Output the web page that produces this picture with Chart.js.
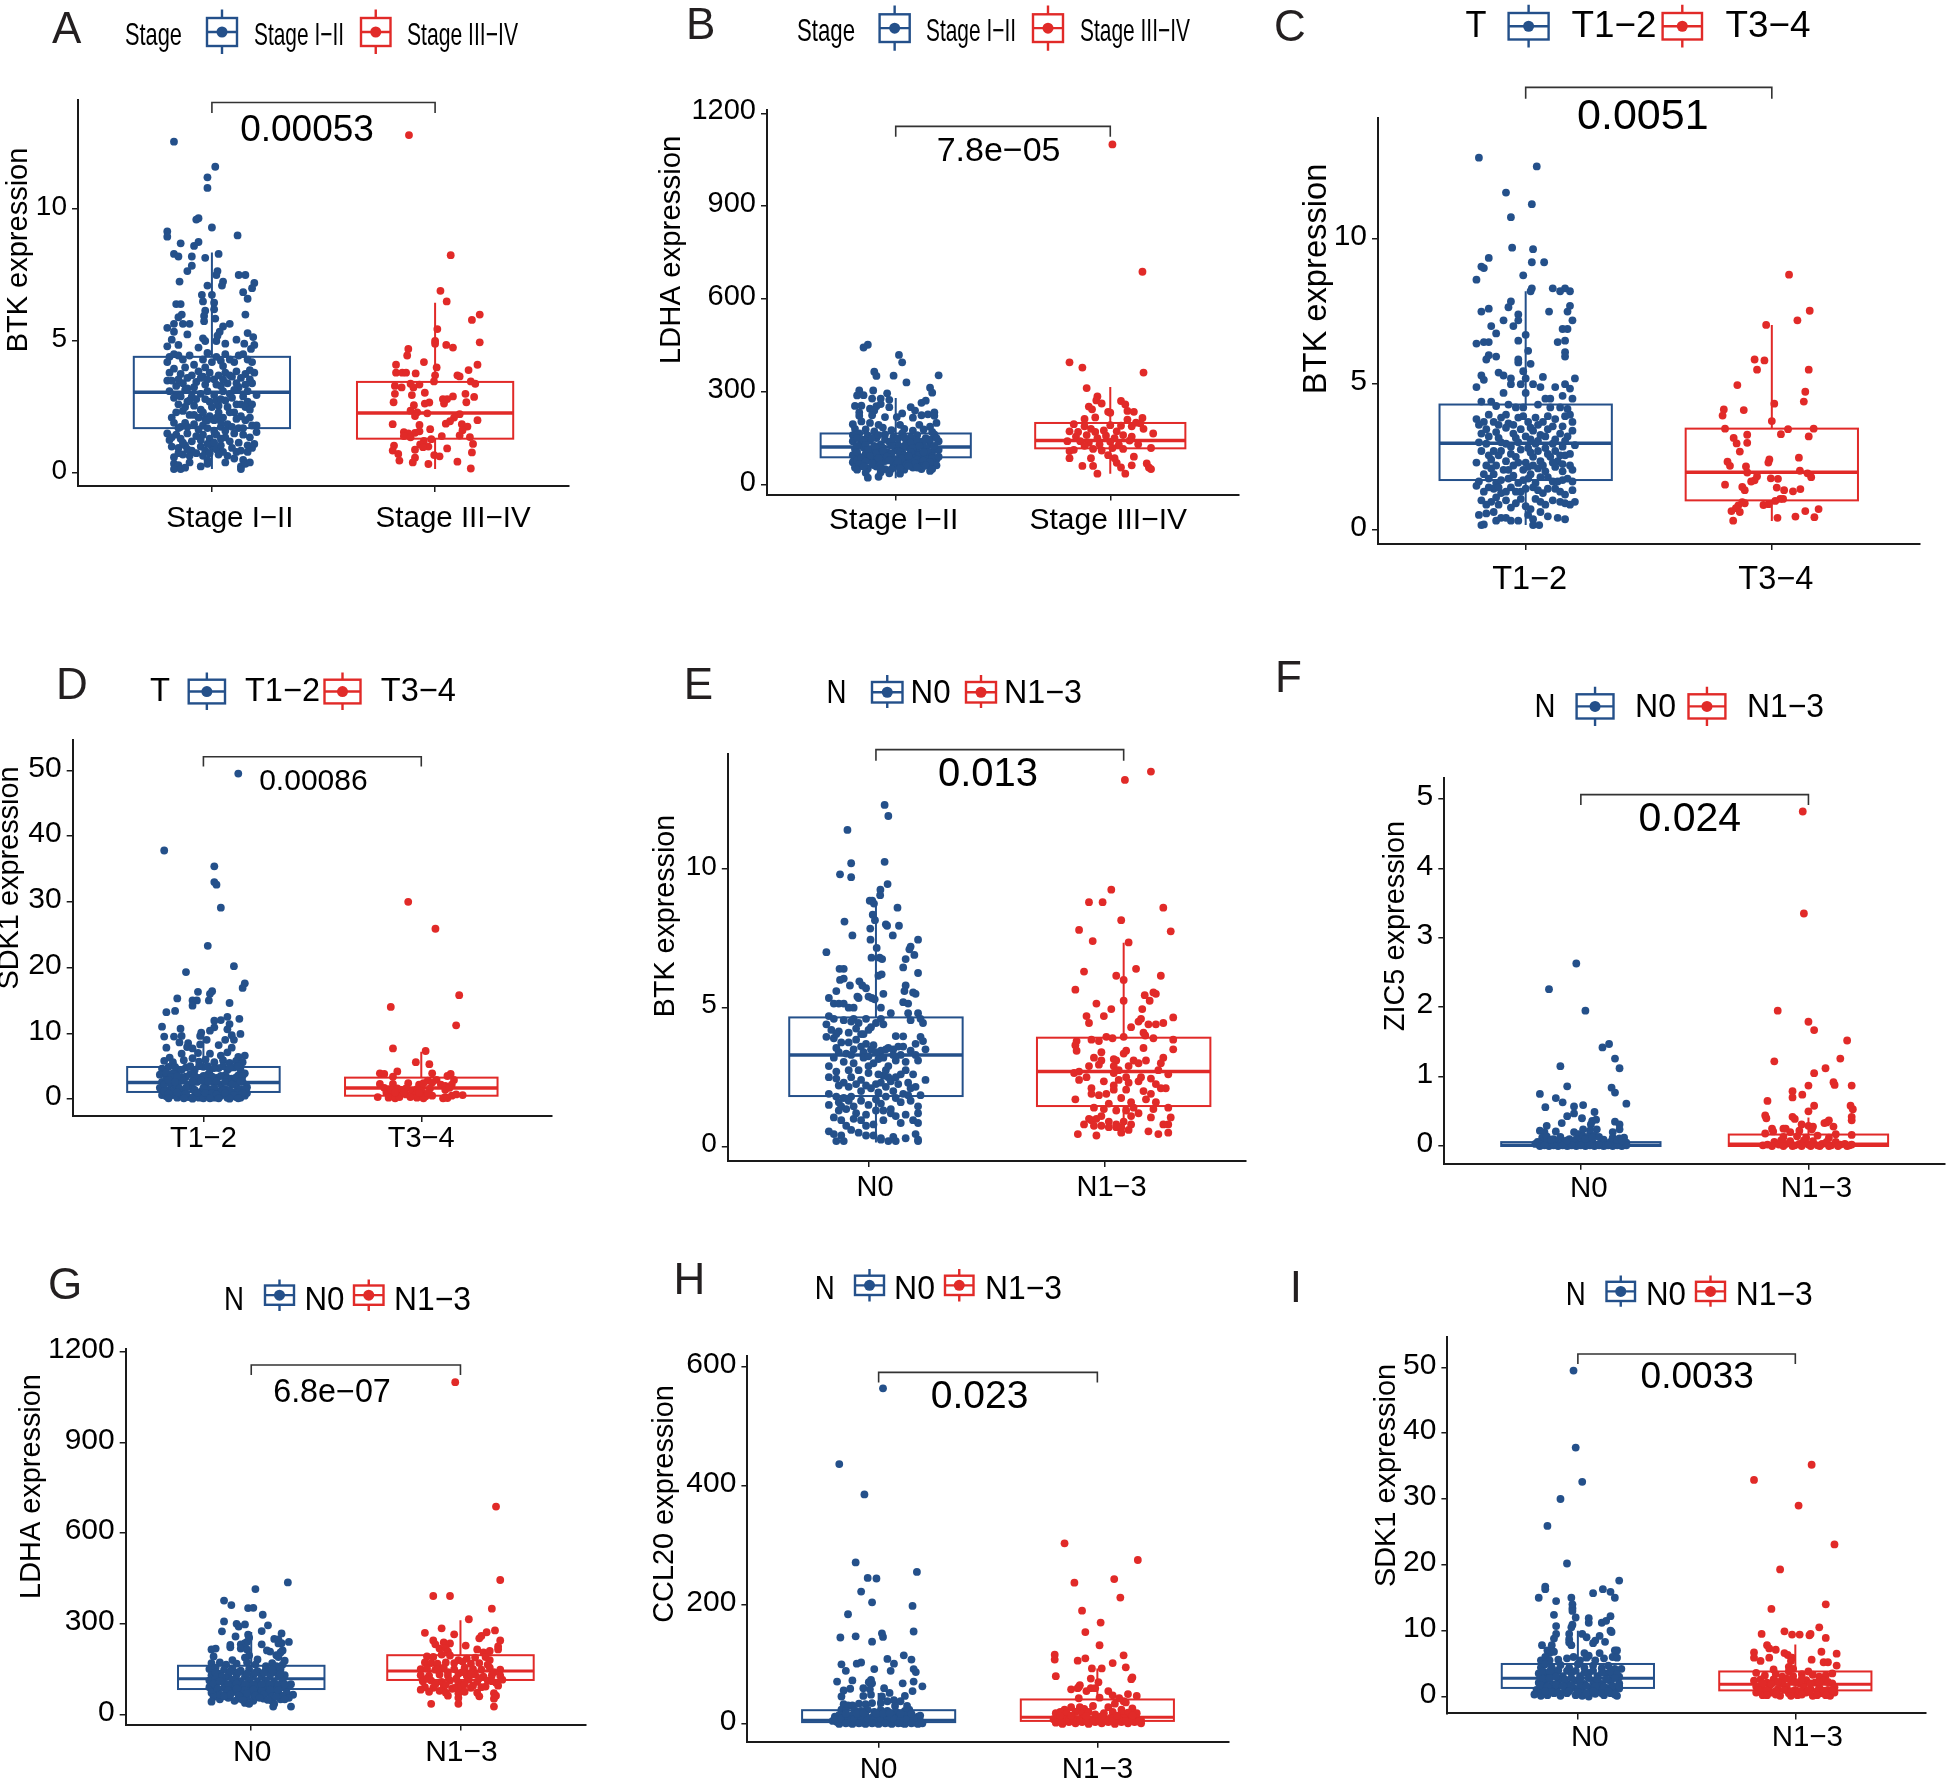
<!DOCTYPE html>
<html><head><meta charset="utf-8"><title>Expression boxplots</title>
<script src="https://cdn.jsdelivr.net/npm/chart.js@4"></script>
<style>html,body{margin:0;padding:0;background:#fff}#page{position:relative;width:1950px;height:1780px;overflow:hidden}canvas{position:absolute}</style>
</head><body><div id="page"></div>
<script>
// categories and tick labels
const catsStage=["Stage I−II","Stage III−IV"], catsT=["T1−2","T3−4"], catsN=["N0","N1−3"];
const ticksBTK=[0,5,10], ticksLDHA=[0,300,600,900,1200], ticksSDK1=[0,10,20,30,40,50], ticksZIC5=[0,1,2,3,4,5], ticksCCL20=[0,200,400,600];
// box statistics: lower whisker, q1, median, q3, upper whisker
const boxA=[[0.15,1.7,3.06,4.4,8.35],[0.15,1.3,2.27,3.45,6.45]];
const boxB=[[20,88,121,165,280],[35,117,142,199,315]];
const boxC=[[0.15,1.7,2.97,4.3,8.2],[0.29,1.0,1.97,3.47,7.04]];
const boxD=[[0,1.07,2.5,4.87,10],[0.05,0.5,1.67,3.25,7.2]];
const boxE=[[0.15,1.82,3.3,4.65,8.82],[0.4,1.46,2.7,3.92,7.34]];
const boxF=[[0,0,0.015,0.056,0.13],[0,0,0.03,0.165,0.41]];
const boxG=[[27,84,118,161,273],[32,114,144,196,312]];
const boxH=[[0,3,6,23,52],[0,5,11,41,93]];
const boxI=[[0,1.3,2.78,4.94,10],[0,0.93,1.85,3.8,7.9]];
// points: [jitter in hundredths of a category, value]
const aLow=[[-17,12.55],[1.5,11.6],[-2,11.2],[-2,10.8],[-6,9.65],[-7,9.6],[0,9.3],[-20,9.15],[-20,8.95],[11.5,9],[-14,8.7],[-6,8.75],[-8,8.6],[-17,8.3],[-15,8.2],[-9,8.2],[-3,8.15],[3,8.3],[-9,7.85],[-11,7.65],[2.5,7.65],[2,7.5],[12,7.5],[15,7.5],[-14.5,7.25],[19,7.2],[5,7.25],[4.5,7.1],[-2,7.1],[18,7],[14,6.85],[-4.5,6.75],[0,6.75],[16,6.6],[-4,6.5],[1,6.45],[-16,6.4],[-14,6.4],[-3,6.15],[1,6.2],[15,6],[-13.5,6],[-15,5.9],[-3.5,5.95],[-3.5,5.75],[1.5,5.85],[-17,5.65],[-13,5.65],[-10,5.65],[8,5.65],[-20,5.5],[5,5.55],[-17,5.35],[3.5,5.35],[-11,5.25],[16,5.3],[18.5,5.15],[-4,5.1],[2.5,5.2],[11,5.05],[-3,5],[2,5],[-18,5.05],[6,4.9],[14.5,4.9],[19,4.85],[-20,4.8],[-15,4.85],[-6,4.75],[17.5,4.7],[-19,4.4],[-20,4.2],[-17,4.5],[-15,4.45],[-13,4.3],[-10,4.45],[-8,4.1],[-4,4.3],[-2,4.55],[0,4.2],[2,4.4],[4,4.25],[6,4.5],[8,4.3],[10,4.2],[12,4.45],[14,4.5],[16,4.3],[18,4.2],[-12,4],[-3,4],[5,4.05],[-19,3.8],[-17,3.95],[-14,3.75],[-11,3.6],[-9,3.7],[-6,3.85],[-4,3.65],[-1,3.8],[1,3.55],[3,3.7],[6,3.8],[9,3.65],[11,3.85],[13,3.6],[15,3.75],[17,3.55],[19,3.8],[-20,3.5],[-16,3.3],[-13,3.4],[-7,3.45],[-3,3.35],[4,3.3],[7,3.4],[12,3.25],[18,3.4],[-19,3.1],[-15,2.95],[-12,3.15],[-9,2.9],[-5,3],[-2,3.1],[1,2.95],[5,3.1],[8,3],[10,3.15],[14,2.9],[16,3.1],[20,2.95],[-15,2.6],[-11,2.7],[-8,2.55],[-5,2.4],[-1,2.7],[3,2.55],[6,2.75],[11,2.6],[16,2.7],[-13,2.35],[-10,2.2],[-6,2.1],[-3,2.05],[-1,2.15],[1,2],[3,2.3],[5,2.1],[10,2.3],[13,2.15],[15,2],[17,2.1],[-18,2.1],[-17,1.9],[-14,1.75],[-12,1.9],[-8,1.85],[-4,1.8],[4,1.75],[7,1.85],[12,1.7],[18,1.8],[-20,1.5],[-19,1.25],[-16,1.45],[-14,1.3],[-11,1.5],[-7,1.4],[-4,1.45],[-1,1.3],[2,1.45],[6,1.35],[10,1.5],[14,1.45],[17,1.35],[20,1.55],[-18,1],[-15,.95],[-12,1.05],[-9,.85],[-5,1],[-3,.85],[0,1],[2,.9],[4,1.05],[9,.95],[13,.85],[18,.95],[-17,.6],[-13,.7],[-10,.65],[-4,.65],[-2,.5],[7,.65],[10,.55],[14,.5],[-17,.35],[-15,.3],[-14,.15],[-12,.2],[-10,.4],[-5,.25],[-2,.35],[6,.4],[13,.25],[15,.35],[17,.4],[-17,.15],[13,.15],[-18,3.5],[-15,3.55],[-11,3.2],[-8,3.25],[-5,3.6],[-2,3.55],[2,3.35],[5,3.55],[8,3.7],[11,3.4],[15,3.35],[17,3.9],[-17,2.85],[-14,2.9],[-10,2.75],[-7,2.8],[-3,2.8],[0,2.5],[2,2.75],[4,2.8],[7,2.5],[9,2.85],[13,2.6],[15,2.5],[18,2.6],[-16,2.3],[-12,2.5],[-8,2.2],[-4,2.3],[-2,2],[2,2.1],[4,1.95],[8,2.3],[11,2.05],[17,2.4],[-15,1.7],[-11,1.75],[-6,1.65],[-2,1.7],[1,1.6],[6,1.6],[9,1.75],[14,1.7],[20,1.8],[-18,1.35],[-13,1.15],[-9,1.2],[-5,1.25],[-2,1.1],[1,1.15],[4,1.3],[8,1.2],[12,1.15],[16,1.05],[19,1.1],[-15,.75],[-11,.9],[-7,.75],[-1,.75],[3,.7],[5,.8],[11,.8],[16,.8]];
const aHigh=[[-11.7,12.8],[7,8.25],[2.4,6.9],[5.2,6.5],[20,6],[16.5,5.8],[1,5.45],[0,5],[0,4.9],[20,4.95],[5,4.85],[8,4.75],[-12,4.7],[-12.5,4.45],[-5,4.2],[-17.5,4.1],[19,4.1],[.7,4],[15,3.9],[-17.5,3.8],[-14.7,3.8],[-13,3.8],[-8.7,3.77],[0,3.7],[10,3.7],[11,3.66],[-.5,3.47],[16,3.47],[18,3.38],[-18,3.3],[-11,3.38],[-7,3.35],[-15,3.24],[-9.7,3.24],[-4.6,3.04],[-18,3],[-10.4,2.95],[13.6,3],[8,2.9],[17.5,2.88],[3.5,2.8],[5.4,2.8],[14,2.68],[4,2.63],[-18.6,2.68],[-2.6,2.67],[-4.6,2.63],[-9.5,2.57],[-11,2.36],[-8,2.3],[-3.5,2.26],[11,2.23],[8.5,2.1],[-9,2.16],[6.7,1.96],[19,2],[4.8,1.87],[-19,1.85],[12,1.85],[-7,1.82],[14.5,1.76],[-2.2,1.66],[12.3,1.62],[-14,1.55],[-12,1.5],[-9,1.52],[-7,1.58],[11,1.42],[3,1.4],[15.6,1.36],[-14,1.4],[-11,1.35],[-1.7,1.28],[-5,1.22],[17,1.1],[-6.7,1.08],[-18.4,1.04],[-3,1],[5.4,.93],[-19,.85],[-9,.88],[-5.4,.98],[16.5,.78],[-16.5,.72],[-.4,.68],[2,.63],[-9,.58],[-16,.47],[-3,.34],[-10,.4],[10,.43],[16,.17]];
const bLow=[[-13,452],[-15,443],[1.5,419],[3,395],[-10,365],[-9,351],[-1,352],[20,353],[5,330],[16,313],[17,297],[-17,304],[-10.5,304],[-4,295],[-18,288],[-15,289],[-7,278],[-3,274],[-11,278],[14,271],[12,264],[-19,254],[-16,255],[-9,253],[-7,260],[7,250],[-12,245],[-3,250],[9,239],[18,233],[-17,233],[-10,239],[12,224],[15,227],[18,222],[3,230],[-17,222],[-11,224],[-5,218],[.5,218],[8,216],[-20,195],[-16,204],[-12,199],[-8,193],[2,193],[11,193],[19,199],[16,187],[-19,180],[-14,178],[-10,172],[-6,184],[-2,176],[4,180],[8,174],[13,178],[17,170],[-20,160],[-17,165],[-13,158],[-9,150],[-5,162],[-1,155],[3,165],[7,152],[10,160],[14,150],[18,162],[-20,140],[-16,135],[-12,142],[-7,130],[-3,138],[1,128],[5,140],[9,130],[12,138],[16,128],[20,140],[-19,115],[-15,120],[-11,110],[-8,118],[-4,105],[0,115],[3,108],[6,120],[10,110],[14,118],[17,105],[20,112],[-20,95],[-17,90],[-14,100],[-10,88],[-6,95],[-2,85],[2,92],[5,84],[8,98],[12,88],[15,95],[19,82],[-20,72],[-18,78],[-15,68],[-12,80],[-9,70],[-5,76],[-1,65],[3,72],[7,78],[11,66],[15,70],[18,75],[-19,55],[-16,60],[-13,52],[-9,58],[-5,50],[0,60],[4,48],[8,55],[12,50],[16,58],[19,62],[-14,38],[-7,40],[-3,36],[2,35],[16,44],[-13,22],[-8,25],[-18,150],[-15,145],[-11,150],[-8,160],[-5,145],[-2,140],[1,148],[4,152],[7,135],[10,142],[13,140],[16,145],[19,150],[-18,125],[-14,128],[-10,125],[-6,118],[-2,125],[1,108],[4,125],[8,118],[11,125],[15,105],[18,125],[-18,105],[-13,112],[-9,102],[-6,108],[-2,100],[2,105],[4,95],[7,105],[11,96],[13,105],[17,92],[-16,85],[-12,92],[-8,85],[-4,90],[0,82],[3,85],[6,92],[10,80],[13,78],[17,85],[20,90],[-17,66],[-14,75],[-10,62],[-7,65],[-3,78],[1,75],[5,65],[9,68],[13,60],[16,72],[-18,48],[-15,58],[-11,68],[-7,52],[-2,50],[2,52],[6,60],[10,55],[14,62],[17,50]];
const bHigh=[[-19,395],[-13,378],[15.5,362],[1,1100],[-11,312],[15,688],[-6,285],[-6.5,272],[5,270],[-4,262],[-10,252],[7,259],[-8.5,243],[-1,235],[0,232],[8,238],[11,235],[-12,212],[-7,217],[8,210],[15,215],[12,200],[14,198],[-17,195],[-12,188],[0,192],[5,190],[10,188],[15.5,180],[-19,172],[-15,170],[-9,180],[-7,170],[-3,175],[3,172],[-16,155],[-11,160],[-6,150],[-2,158],[2,150],[6,160],[10,155],[20,165],[-20,140],[-14,140],[-10,135],[-5,130],[0,138],[4,128],[9,142],[13,130],[19,118],[-19,108],[-17,112],[-12,125],[-8,115],[-4,110],[1,118],[6,115],[-19,85],[-9,85],[-1,95],[2,85],[11,90],[-13,60],[-8,60],[3,70],[5,55],[10,62],[17,68],[18,55],[19,50],[-6,35],[7,35]];
const cLow=[[-19,12.8],[4.5,12.5],[-8,11.6],[2.5,11.2],[-6,10.75],[-5.5,9.7],[3,9.65],[-15,9.35],[-18,9.05],[-17,9],[2.5,9.2],[7.5,9.2],[-1,8.75],[-20,8.6],[2.5,8.3],[2,8.2],[11,8.3],[16,8.3],[14,8.2],[18,8.2],[-6,7.85],[-7,7.65],[-15,7.6],[-18,7.5],[18,7.7],[17,7.5],[9.5,7.5],[-3,7.4],[-3,7.2],[-9,7.2],[19,7.2],[-14,7],[-5,7],[-12,6.75],[15,6.9],[17,6.9],[-3,6.5],[0,6.7],[13,6.45],[16,6.5],[-20,6.4],[-17,6.45],[-15,6.45],[1,6.15],[16,6.1],[16,5.95],[-15,6],[-16,5.85],[-12,5.95],[-3,5.85],[-3,5.75],[2,5.7],[-11,5.4],[-9,5.3],[-1,5.45],[0,5.2],[-6,5.2],[-18,5.3],[-17,5.15],[7,5.25],[20,5.2],[-6,5],[-2,5],[3,5],[6,4.9],[12,4.9],[16,5],[18,4.85],[-20,4.9],[-9,4.7],[0,4.7],[8,4.5],[10,4.5],[15,4.6],[19,4.5],[-18,4.4],[-14,4.4],[-12,4.25],[-7,4.3],[-4,4.2],[-1,4.2],[5,4.3],[10,4.2],[14,4.2],[17,4.15],[-20,3.8],[-19,3.6],[-15,3.95],[-13,3.7],[-10,3.85],[-7,3.65],[-3,3.85],[1,3.7],[4,3.85],[7,3.7],[12,3.8],[16,3.9],[19,3.7],[-18,3.3],[-16,3.45],[-12,3.35],[-8,3.5],[-5,3.3],[-2,3.45],[0,3.2],[3,3.4],[6,3.25],[9,3.45],[14,3.3],[17,3.2],[19,3.4],[-19,3],[-16,2.95],[-13,2.7],[-10,3],[-6,2.85],[-3,3],[1,2.8],[4,2.95],[8,2.8],[11,2.95],[15,2.85],[20,2.9],[-14,2.4],[-11,2.55],[-8,2.35],[-4,2.5],[0,2.3],[3,2.5],[6,2.35],[10,2.5],[13,2.35],[16,2.55],[-20,2.3],[-14,2.1],[-9,2.05],[-5,2.2],[-1,2.05],[5,2.1],[8,2],[12,2.15],[15,2],[18,2.2],[-19,1.65],[-15,1.75],[-12,1.6],[-7,1.75],[-3,1.6],[1,1.75],[4,1.6],[9,1.8],[13,1.65],[17,1.75],[19,1.65],[-20,1.5],[-17,1.3],[-13,1.4],[-10,1.25],[-6,1.45],[-2,1.3],[3,1.45],[7,1.25],[12,1.4],[16,1.2],[19,1.35],[-18,1],[-14,.95],[-11,.85],[-8,1],[-4,.9],[0,.8],[4,1.05],[8,.85],[14,.95],[18,.85],[20,.95],[-19,.5],[-16,.55],[-13,.6],[-10,.4],[-6,.3],[-3,.3],[1,.5],[3,.35],[6,.6],[9,.45],[13,.4],[16,.35],[-18,.15],[-17,.17],[-8,.4],[3,.15],[5.5,.15],[-12,.3],[-17,3.7],[-11,3.6],[-8,3.95],[-5,3.6],[-1,3.9],[2,3.5],[5,3.6],[9,3.9],[11,3.55],[15,3.55],[18,3.95],[-15,3.2],[-11,3.15],[-8,2.95],[-4,3.15],[2,3.1],[5,3.05],[8,3.2],[12,3.1],[16,3.05],[-18,2.7],[-15,2.55],[-10,2.7],[-6,2.6],[-2,2.75],[2,2.65],[5,2.7],[9,2.6],[12,2.7],[14,2.55],[18,2.6],[-16,2.2],[-12,2.2],[-7,2.05],[-3,2.3],[1,2.15],[3,2.2],[7,2.2],[11,2.3],[15,2.25],[19,2.05],[-17,1.9],[-13,1.9],[-10,1.7],[-5,1.85],[-1,1.7],[2,1.9],[6,1.8],[11,1.65],[15,1.7],[-15,1.45],[-11,1.45],[-8,1.3],[-4,1.3],[0,1.4],[5,1.35],[9,1.4],[14,1.3],[-16,.85],[-12,1.1],[-6,.75],[-2,1.05],[2,.7],[6,.95],[11,1],[16,.9]];
const cHigh=[[7,8.77],[15.4,7.53],[10.4,7.2],[-2.3,7.04],[-7,5.85],[-3,5.82],[-6,5.5],[15,5.5],[-14,4.97],[13.6,4.74],[13,4.4],[1,4.33],[-19.5,4.13],[-11.4,4.11],[-20,3.92],[0,3.73],[-19,3.47],[6.6,3.45],[17,3.47],[3.7,3.28],[-10,3.26],[15,3.2],[-15.5,3.15],[-14.3,2.96],[-10,2.98],[-13,2.68],[11,2.47],[-1,2.41],[-1.4,2.3],[-18,2.33],[-17,2.19],[-10.5,2.17],[-10,1.96],[11.4,2.02],[14.5,1.93],[16,1.8],[-6,1.83],[-7,1.69],[-.4,1.76],[2.5,1.74],[-8.4,1.65],[-19,1.54],[-12,1.46],[-11,1.35],[2,1.44],[11.6,1.39],[5,1.35],[8.6,1.31],[4.6,1.05],[3.4,1.05],[1.4,.98],[-12,.94],[-13.6,.83],[-11,.9],[-3.4,.84],[-1.3,.87],[-14.6,.73],[19,.7],[-13,.6],[-16.4,.63],[13.6,.63],[9.6,.44],[17.3,.42],[2.3,.4],[-15.7,.3]];
const dLow=[[16,49.5],[-18,37.8],[5,35.4],[5,33],[6,32.6],[8,29.1],[2,23.3],[14,20.2],[-8,19.3],[19,17.6],[18,16.9],[-2.5,16.3],[4,16.4],[3,16],[-12,15.3],[-3,15],[-5,15],[2.5,15],[12,14.6],[-5,14.2],[-17,13.2],[-13,13.4],[11,12.5],[16.5,12.2],[8,12],[5,11.9],[12,11.4],[-19,11],[5,10.9],[-10.5,10.7],[3,10.4],[11,10.6],[-1,10.1],[17,9.9],[-1.5,9.6],[13,9.7],[-18,9.5],[-13.5,9.5],[-10,9.6],[14,9],[1.5,9],[10,9],[-11,8.6],[-7,8.5],[-1.5,8.3],[7,8.2],[-17,7.8],[-7.5,7.9],[-5,7.7],[13,7.8],[11,7.1],[-10,6.9],[-2.5,7],[3,6.9],[19,6.6],[16,6.4],[-15.5,6.3],[8,6.6],[-18,5.8],[-14,5.6],[-9,5.9],[-5,6.2],[-2,5.7],[1,6],[5,5.6],[9,5.9],[12,5.5],[15,5.8],[18,5.6],[-19,4.6],[-16,4.9],[-12,4.5],[-8,4.8],[-4,4.4],[0,4.9],[3,4.4],[7,4.7],[11,4.4],[14,4.8],[17,4.5],[19,3.9],[-20,3.7],[-17,3.4],[-14,3.9],[-10,3.3],[-6,3.8],[-2,3.2],[2,3.7],[6,3.2],[10,3.6],[13,3.1],[16,3.6],[-19,2.6],[-15,2.3],[-11,2.7],[-7,2.2],[-3,2.6],[1,2.2],[4,2.7],[8,2.2],[12,2.5],[15,2.1],[18,2.6],[-20,1.7],[-16,1.3],[-13,1.7],[-9,1.2],[-5,1.6],[-1,1.1],[3,1.5],[7,1.1],[10,1.5],[14,1],[17,1.5],[20,1.8],[-19,.6],[-17,.4],[-14,.6],[-12,.2],[-10,.6],[-7,.3],[-4,.5],[-2,.2],[0,.1],[2,.6],[5,.2],[8,.5],[11,.2],[13,.5],[15,.3],[17,.2],[19,.5],[20,.9],[-17,4],[-15,3.3],[-12,3.5],[-8,3.4],[-4,3.5],[0,3.5],[4,3.4],[8,3.5],[11,3.2],[15,3.3],[18,3.5],[-18,2.2],[-16,2.9],[-13,2.6],[-9,2.8],[-5,2.7],[-1,2.8],[2,2.7],[6,2.7],[10,2.6],[13,2.2],[17,2.7],[-18,1.2],[-15,1.2],[-11,1.6],[-8,1.7],[-4,1.4],[0,1.7],[5,1.7],[9,1.3],[12,1.3],[16,1],[19,1.5],[-16,.8],[-12,1],[-8,.8],[-3,.9],[1,.9],[4,.9],[6,.7],[10,.9],[14,.6],[18,.9],[-13,4.9],[-10,4.4],[-6,5],[-2,5],[2,5],[5,4.7],[9,5],[12,4.7],[16,5],[-16,.1],[-9,.1],[-5,.05],[3,.1],[7,.1],[12,.05],[16,.1]];
const dHigh=[[-6,30],[6.5,25.9],[17.4,15.8],[-14,14],[16,11.2],[-13,7.7],[2,7.3],[-2.5,5.6],[3.7,5.3],[-19,3.9],[-17,3.8],[-11,4.2],[-13,3.4],[5,3.9],[13.5,3.8],[12,3.5],[7,2.9],[15,2.9],[3,2.8],[-6,2.4],[-19,2.3],[-13,2.3],[-1,2.2],[1,2.4],[5,2.5],[9,2.2],[11,2],[14,2.2],[-17,1.7],[-15,1.5],[-11,1.6],[-9,1.4],[-7,1.6],[-4,1.2],[-2,1.5],[0,1.2],[4,1.6],[11,1.4],[13,1.7],[-16,1],[-13,.8],[-10,.9],[-7,.7],[-3,.6],[0,.6],[2,.4],[5,.5],[11,.3],[14,.5],[16,.7],[19,.6],[-20,.3],[-15,.2],[-12,.1],[-10,.3],[-2,.2],[1,.1],[10,.1],[12,.15],[-14,1.4],[-12,1],[-8,1],[-5,.3],[-1,.9],[3,.9]];
const eLow=[[3.5,12.3],[5,11.9],[-11.5,11.4],[-10,10.2],[3.5,10.25],[-14.5,9.8],[-10,9.7],[4.7,9.45],[1.8,9.25],[1.7,9.05],[-2.5,8.85],[-1.5,8.85],[-.8,8.75],[8.7,8.6],[-1.3,8.35],[-.4,8.15],[-12.7,8.1],[4,8],[4.5,7.95],[9.3,7.95],[-2.3,7.85],[6.8,7.6],[-9.5,7.6],[17,7.45],[-2.2,7.45],[14,7.2],[13.5,7.1],[.3,7.15],[-20,7],[15.5,6.9],[-1.8,6.8],[1.5,6.8],[2.5,6.75],[12,6.75],[-14.7,6.4],[-13,6.4],[11,6.45],[17,6.25],[2.3,6.2],[1,6.15],[-14.5,6],[-13,6.05],[-6.7,5.95],[-5.5,5.8],[-10.5,5.8],[-4,5.7],[12,5.8],[11.5,5.6],[-16,5.6],[15,5.55],[16,5.5],[3,5.5],[-3,5.4],[-7.5,5.4],[-7,5.35],[-1.7,5.35],[-19,5.35],[-.5,5.3],[11,5.2],[13,5.15],[-17,5.15],[-15,5.15],[-13,5.15],[-11,5],[-9,5],[2,5],[6,4.8],[13,4.8],[17,4.8],[18,4.6],[-19,4.7],[-17,4.6],[-13,4.55],[-9,4.6],[-7,4.45],[-4,4.6],[0,4.45],[2,4.6],[3,4.4],[14,4.55],[19,4.45],[-20,4.4],[-18,4.2],[-15,4.15],[-11,4.1],[-8,4.25],[-6,4.05],[-3,4.2],[8,3.98],[11,3.97],[18,3.95],[-20,3.95],[-17,3.9],[-14,3.75],[-11,3.75],[-8,3.85],[-4,3.7],[-1,3.65],[5,3.55],[9,3.6],[16,3.7],[19,3.8],[-15,3.4],[-12,3.35],[-9,3.5],[-5,3.4],[-2,3.5],[2,3.45],[4,3.5],[7,3.5],[10,3.3],[14,3.45],[20,3.5],[-19,2.9],[-17,3.2],[-13,3.05],[-9,3],[-5,3.2],[-1,3],[1,3.15],[5,2.9],[8,3.1],[12,3.05],[17,3.1],[-19,2.5],[-16,2.45],[-13,2.3],[-10,2.5],[-6,2.4],[-3,2.65],[0,2.25],[3,2.55],[6,2.35],[10,2.6],[13,2.3],[16,2.15],[20,2.4],[-19,1.9],[-16,1.8],[-13,1.75],[-10,1.8],[-6,2],[-2,2.1],[1,1.95],[4,2.15],[7,2],[11,1.9],[13,1.85],[18,1.85],[-19,1.5],[-15,1.6],[-12,1.35],[-9,1.45],[-3,1.5],[2,1.55],[6,1.35],[10,1.6],[17,1.45],[17,1.2],[-17,1.05],[-14,.95],[-12,.75],[-9,1],[-6,.95],[-4,.75],[-1,.8],[3,.95],[6,1.2],[10,.85],[15,.95],[17,.85],[-19,.55],[-17,.45],[-14,.4],[-10,.6],[-7,.5],[-4,.4],[-1,.4],[2,.3],[5,.2],[7,.35],[12,.3],[16,.45],[17,.25],[-16,.2],[-13,.2],[2,.25],[8,.2],[17,.2],[-16,4.05],[-10,4.5],[-5,4.05],[-2,4.3],[-16,3.55],[-10,3.3],[-6,3.6],[-3,3.25],[0,3.4],[3,3.2],[7,3.3],[11,3.6],[16,3.3],[-16,2.7],[-11,2.75],[-7,2.75],[-3,2.9],[1,2.6],[4,2.75],[8,2.5],[12,2.75],[15,2.6],[-15,2.2],[-11,2.15],[-8,2.25],[-4,2.2],[2,2.3],[5,2.5],[9,2.25],[14,2.1],[-14,1.45],[-11,1.65],[-6,1.65],[0,1.7],[4,1.8],[8,1.75],[14,1.65],[-15,1.3],[-8,1.2],[-4,1.15],[0,1.3],[3,1.3],[8,1.1],[12,1.15]];
const eHigh=[[11,13.5],[.5,13.2],[-5,9.25],[-8.5,8.8],[-14,8.8],[16,8.6],[-1,8.15],[-18,7.8],[19,7.75],[-12.5,7.4],[2,7.35],[5,6.4],[-16,6.3],[15,6.15],[-3,6.15],[0,6],[-19.5,5.65],[13,5.5],[12,5.55],[8.5,5.45],[10.5,5.25],[0,5.25],[-11,5.15],[-5,4.95],[7.5,4.95],[-15,4.7],[-8,4.7],[20,4.65],[7,4.6],[6,4.5],[-14,4.45],[3,4.3],[10,4.4],[13,4.4],[16,4.45],[8,4.1],[8.7,4],[-19,3.8],[-7,3.95],[-4.5,3.9],[0,3.95],[-13,3.85],[-10,3.8],[-19.5,3.65],[12,3.9],[20,3.85],[8,3.55],[-19,3.45],[-9,3.4],[1,3.45],[0,3.35],[20,3.5],[-12,3.2],[-9,3.1],[-4,3.15],[-3,3.1],[16,3.2],[4,3.1],[6,3],[-14,2.9],[-10,2.95],[-4,2.9],[-2,2.75],[2,2.9],[9,3.1],[15,3],[-18,2.7],[-20,2.65],[-4,2.65],[1,2.5],[7,2.5],[11,2.45],[14,2.75],[18,2.6],[-15,2.5],[-18,2.4],[-8,2.35],[-4,2.2],[-2,2.4],[2,2.3],[6,2.35],[13,2.25],[17,2.1],[-13,2.1],[-7,1.9],[-4,2.05],[1,2.05],[8,2],[11,1.9],[15,2.1],[-19.5,1.7],[-13,1.9],[-10,1.85],[-6,1.55],[-1,1.75],[3,1.6],[9,1.7],[13,1.6],[-12,1.4],[-8,1.35],[-3,1.3],[1,1.3],[4,1.4],[12,1.35],[18,1.4],[-14,1],[-13,.95],[-11,1],[-9,1.1],[-6,.9],[-3,.8],[0,.9],[3,1.1],[6,1.2],[11,1.05],[19,1.05],[18,.8],[-16,.8],[-12,.75],[-9,.75],[-6,.7],[-3,.7],[-1,.7],[2,.6],[3,.8],[16,.8],[-18.5,.45],[-11,.4],[-1,.5],[10,.55],[14,.45],[18,.5]];
const fLow=[[-2,2.63],[-14,2.26],[2,1.95],[12.4,1.47],[9.5,1.42],[15,1.26],[-9,1.15],[17,1.12],[-6,.86],[13.5,.84],[15,.77],[-18,.75],[-11,.69],[-8,.63],[20,.61],[-15.6,.56],[-3,.57],[1,.59],[6,.49],[-3,.47],[-6,.43],[.5,.4],[6.7,.38],[5,.36],[-8.4,.33],[15,.35],[17,.31],[-15,.29],[4.4,.31],[-18,.22],[-16,.2],[-11,.21],[-3,.2],[-1,.17],[1,.24],[4,.22],[7,.24],[14,.2],[17,.24],[-17,.12],[-15,.14],[-12,.1],[-9,.13],[-5,.1],[-2,.1],[1,.14],[3,.13],[6,.15],[10,.09],[14,.12],[17,.11],[19,.12],[-20,.03],[-19,.06],[-17,.02],[-15,.05],[-13,.02],[-11,.06],[-9,.03],[-7,.07],[-5,.01],[-3,.05],[-1,.02],[1,.06],[3,.02],[5,.07],[7,.02],[9,.05],[11,.01],[13,.06],[15,.02],[17,.05],[19,.02],[20,.05],[-18,0],[-14,0],[-10,0],[-6,0],[-2,0],[2,0],[6,0],[10,0],[14,0],[18,0],[-16,.01],[-12,.01],[-8,.01],[-4,.01],[0,.01],[4,.01],[8,.01],[12,.01],[16,.01],[20,.01],[-13,.09],[-6,.08],[2,.1],[5,.12],[8,.13],[16,.09],[18,.08]];
const fHigh=[[-2.5,4.82],[-2,3.35],[-13.5,1.95],[0,1.79],[2.5,1.67],[17,1.52],[14,1.26],[-15,1.22],[7.5,1.12],[2.5,1.05],[11,.92],[11.5,.88],[0,.87],[19,.87],[-7,.79],[-7,.7],[-2.7,.74],[-18,.65],[18.5,.58],[19.5,.53],[2.5,.58],[0,.5],[-19,.44],[-18.5,.4],[-7,.42],[-6,.39],[19,.42],[19,.37],[8,.34],[9,.37],[7,.33],[-3,.31],[0,.29],[2,.28],[11,.28],[-16,.25],[-11,.25],[-10,.25],[-19,.18],[-15.5,.21],[-8,.2],[-4,.22],[1.5,.24],[12,.17],[19,.16],[-11,.13],[-5,.14],[-1,.12],[4,.15],[9,.12],[-20,.01],[-18,.02],[-15,.06],[-13,.02],[-12,.08],[-10,.03],[-8,.07],[-6,.01],[-4,.03],[-2,.08],[0,.02],[2,.07],[4,.01],[6,.03],[8,.06],[10,.01],[12,.06],[14,.02],[16,.03],[18,.01],[19,.02],[-16,0],[-11,0],[-7,0],[-3,0],[1,0],[5,0],[9,0],[13,0],[17,0]];
const gLow=[[17.5,437],[2,415],[-13,377],[-9.5,362],[-1.5,352],[1,353],[5.5,330],[-13,308],[8,295],[-7,300],[-6,291],[-3,298],[-14,275],[5,276],[14.5,268],[-1.5,264],[-7.5,258],[-1,254],[11,250],[13,248],[18,240],[-2,240],[-3,236],[14.5,236],[-5,232],[13,235],[-10,230],[5,232],[-10,222],[-19,215],[-17,218],[-5,218],[-2,215],[9,208],[7.5,212],[15,212],[14,205],[-18,192],[-1,195],[12,196],[-9,180],[-3,188],[3,182],[16,178],[10,170],[13,190],[-19,170],[-15,172],[-12,165],[-7,168],[-2,172],[2,165],[7,160],[12,160],[15,165],[-20,150],[-17,155],[-13,148],[-9,152],[-5,145],[-1,150],[3,143],[7,148],[11,140],[14,150],[-19,130],[-15,135],[-11,128],[-7,132],[-3,125],[1,130],[5,125],[9,130],[13,125],[16,130],[-20,112],[-17,118],[-13,108],[-9,115],[-5,105],[-1,112],[3,105],[7,112],[11,105],[15,112],[19,100],[-20,90],[-17,95],[-13,88],[-9,92],[-5,85],[-1,92],[3,85],[7,90],[11,82],[15,90],[18,95],[-19,72],[-16,78],[-12,70],[-8,75],[-4,68],[0,75],[4,68],[8,72],[13,68],[17,72],[20,65],[-18,58],[-15,50],[-11,55],[-6,52],[-2,58],[1,45],[6,52],[10,45],[14,50],[-19,42],[-3,38],[-1,35],[11,35],[19,26],[10.5,26],[-17,138],[-14,125],[-10,142],[-6,140],[-2,135],[2,138],[6,138],[10,148],[14,135],[-18,102],[-15,110],[-11,100],[-7,102],[-3,100],[1,100],[5,100],[9,100],[13,98],[16,100],[-16,85],[-11,80],[-7,85],[-3,80],[1,82],[5,78],[9,82],[13,80],[-15,65],[-10,65],[-6,62],[-2,70],[2,62],[6,65],[10,60],[15,62],[18,55],[-13,60],[-8,45],[-4,48],[4,55],[8,48],[12,58],[16,50]];
const gHigh=[[-2.5,1100],[17,688],[19,445],[-13,392],[-5,392],[15,350],[4,315],[-9,285],[12.5,272],[16.5,278],[-17,270],[-3,265],[9,252],[10,260],[-13,245],[-12,232],[-8,238],[-5,235],[19,245],[2.5,228],[18,225],[-10,218],[-7,220],[-6,208],[8,215],[11,205],[14,210],[18,215],[-16,192],[-13,190],[-9,198],[-5,195],[-1,180],[3,185],[7,188],[12,190],[14,180],[-17,172],[-14,170],[-11,168],[-7,172],[-3,170],[1,175],[5,168],[9,170],[13,165],[19,148],[-19,150],[-16,152],[-12,148],[-8,155],[-3,150],[2,155],[6,150],[10,148],[14,155],[-19,130],[-15,128],[-10,132],[-6,128],[-1,135],[3,128],[7,132],[11,125],[15,130],[19,128],[-18,110],[-14,112],[-9,108],[-5,112],[-1,105],[4,115],[8,108],[13,112],[17,105],[20,115],[-17,90],[-13,88],[-8,92],[-4,85],[0,90],[5,88],[12,92],[18,95],[-19,82],[-15,75],[-10,78],[-7,72],[-1,70],[2,75],[8,72],[16,70],[-6,62],[-1,55],[9,60],[17,62],[16,52],[-14,35],[-1,35],[16,26],[-11,148],[-6,140],[-2,118],[1,140],[5,132],[9,120],[16,140],[-16,118],[-12,100],[-7,98],[-3,88],[2,100],[6,95],[10,90],[15,110]];
const hLow=[[2,563],[-18,436],[-6.5,385],[-10.5,271],[17.5,255],[-5,245],[-1,244],[-8,222],[-3,204],[15.5,198],[-14,184],[16,155],[1.5,152],[2,146],[-10.5,147],[-17.5,145],[-3,138],[11.5,115],[15,108],[4,109],[-8,103],[-10,101],[7,101],[-17,100],[-15,89],[5.5,89],[-2,92],[16,92],[17,87],[-19,71],[-12,73],[-3.5,74],[-4.5,70],[-3,68],[11,68],[16,71],[20,63],[-16,56],[-13,59],[-7,60],[-4,58],[2.5,60],[15.5,55],[5,52],[-17,46],[-7,47],[-3.5,49],[1.5,46],[12,47],[4,38],[7,40],[10,38],[-9,34],[-6,33],[-3,35],[1,35],[-16,33],[-14,31],[-12,31],[7.5,30],[13,30],[-17,24],[-15,22],[-11,23],[-8,22],[-5,24],[-2,20],[1,23],[4,22],[8,20],[12,22],[14,24],[-20,12],[-18,15],[-15,12],[-12,15],[-9,12],[-6,15],[-3,11],[0,14],[3,12],[6,15],[9,11],[12,14],[15,11],[18,12],[19,14],[-21,5],[-19,3],[-16,6],[-13,2],[-10,5],[-7,2],[-4,6],[-1,2],[2,5],[5,2],[8,5],[11,1],[14,4],[17,2],[19,5],[-18,0],[-12,0],[-6,0],[0,0],[6,0],[12,0],[18,0],[-20,8],[-17,9],[-14,8],[-11,9],[-8,8],[-5,9],[-2,8],[1,9],[4,8],[7,9],[10,7],[13,8],[16,8],[-15,17],[-10,17],[-7,18],[-1,17],[2,17],[5,18],[10,17],[15,17],[-15,1],[-9,1],[-3,1],[3,1],[9,1],[15,1],[20,1]];
const hHigh=[[-15,303],[18.5,275],[-10.5,237],[7.7,243],[10.5,212],[-7,190],[1.5,170],[-5.5,154],[1,132],[-19.5,116],[-19.5,108],[-9,106],[-5.5,110],[12,115],[7,102],[13,95],[-2.5,93],[2,93],[-19,80],[16,78],[15.5,75],[-3,76],[-8,65],[-8.5,62],[.5,70],[-12,58],[-9,60],[-5,55],[-3,60],[-1,60],[5,55],[7,48],[14,50],[-8.5,43],[1,44],[18,47],[10,43],[12,38],[13,36],[8,34],[-15,24],[-12,28],[-8,28],[-6,25],[-2,30],[5,28],[11,24],[16,26],[-19,18],[-17,20],[-14,18],[-10,20],[-7,17],[-4,20],[-1,16],[3,18],[7,20],[11,17],[14,19],[18,18],[-20,8],[-18,10],[-15,7],[-12,10],[-9,8],[-6,10],[-3,7],[0,10],[3,7],[6,10],[9,8],[12,10],[15,7],[18,9],[20,6],[-19,2],[-16,0],[-13,3],[-10,1],[-7,3],[-4,0],[-1,3],[2,1],[5,3],[8,0],[11,3],[14,1],[17,3],[20,1],[-17,5],[-13,6],[-11,5],[-8,5],[-5,6],[-2,5],[1,6],[4,5],[7,5],[10,6],[13,5],[16,5],[19,4],[-17,14],[-12,14],[-5,13],[2,13],[9,14],[16,14]];
const iLow=[[-2,49.5],[-1,37.8],[2,32.6],[-8,30],[-14,25.9],[-5,20.2],[19,17.6],[-15,16.7],[-15,16.3],[11.5,16.3],[15,15.9],[7,15.7],[-18,15],[-3,15],[17,15],[-10,14.5],[-2.5,14],[-2.5,13.4],[-2.5,13],[-11,12.4],[-1,12],[5,11.9],[15,12.2],[5,11.2],[11,11.2],[13,11.5],[-10,10.7],[-2.5,10.9],[-3,10.5],[15,10],[15.5,9.8],[-10,9.5],[-4,9.5],[2,9.5],[4,9],[10,9.2],[-11,8.8],[-4,8.7],[-4,8.2],[8,8.5],[7,8.1],[12.5,8.3],[-16.5,7.8],[-12,7.8],[-3,7.8],[-14,7],[-13,6.6],[-11,6.8],[17,7],[18,7],[10,6.6],[3,6.6],[5,6.2],[-17,5.5],[-15,6],[-13,5.5],[-9,5.6],[-5,5.8],[-2,6],[1,5.5],[4,5.9],[8,5.5],[12,5.8],[16,6],[18,5.9],[20,4.2],[-17,4.4],[-15,4.9],[-12,4.4],[-8,4.8],[-4,4.4],[0,4.9],[3,4.4],[7,4.7],[11,4.3],[14,4.7],[17,4.2],[-18,3.5],[-15,3.1],[-11,3.6],[-7,3.1],[-3,3.6],[1,3.1],[5,3.6],[9,3.1],[13,3.5],[16,3],[19,3],[-18,2.1],[-15,2.4],[-12,1.9],[-9,2.4],[-5,1.9],[-1,2.4],[3,1.9],[7,2.3],[11,1.9],[15,2.3],[19,2],[-19,1],[-16,1.4],[-13,.8],[-10,1.3],[-6,.8],[-2,1.3],[2,.8],[6,1.3],[10,.8],[13,1.3],[17,.9],[19,1.2],[-20,.3],[-17,.6],[-14,.2],[-11,.5],[-8,.1],[-5,.5],[-1,.2],[2,.1],[5,0],[8,.4],[12,.2],[15,.5],[18,.1],[-16,3.8],[-13,3.8],[-9,4],[-5,3.9],[-1,3.9],[3,3.6],[7,3.9],[11,3.6],[15,3.8],[18,3.4],[-16,2.7],[-13,2.8],[-10,3],[-6,2.6],[-3,2.8],[1,2.6],[5,2.8],[9,2.6],[13,2.6],[17,2.8],[-17,1.7],[-14,1.5],[-10,1.8],[-7,1.6],[-3,1.7],[1,1.6],[4,1.6],[8,1.6],[12,1.5],[16,1.6],[19,1.6],[-17,.1],[-15,.8],[-12,.7],[-9,.6],[-4,.8],[0,.7],[4,.5],[7,.8],[11,.5],[14,.8],[17,.3]];
const iHigh=[[7.5,35.2],[-19,32.9],[1.5,29],[18,23.1],[-7,19.3],[14,14],[-11,13.3],[11,10.5],[-15.5,9.5],[-5,9.9],[-1.5,9.4],[2,9.4],[6.5,9.3],[7,9.5],[14,8.9],[-13,7.8],[-12,7.3],[-9,7.1],[12,6.8],[-19,6.7],[-5,6.6],[-3.5,6.3],[19,6.5],[-19,5.9],[-12,5.9],[-1.5,5.9],[-2,5.4],[7.5,5.6],[-16,5.4],[13,5.2],[15,5.2],[19,4.7],[-3,4.5],[-1,4.2],[-10,4.1],[-3,3.8],[6,3.8],[17,3.5],[-18,3.6],[-14,3.2],[-9,3.4],[-6,3],[-1,3.1],[3,3.4],[8,3.3],[11,3],[14,3.2],[-19,2.4],[-16,2.6],[-13,2.1],[-10,2.6],[-6,2],[-2,2.4],[2,2],[5,2.5],[9,2.1],[13,2.4],[17,2],[-18,1.5],[-15,1.1],[-12,1.5],[-8,1.1],[-4,1.5],[0,1],[4,1.4],[7,1.1],[11,1.4],[15,1],[18,1.4],[-18,.6],[-15,.2],[-11,.6],[-7,.1],[-3,.5],[1,.2],[5,.6],[8,.1],[12,.5],[16,.1],[18,.6],[-15,2],[-11,1.9],[-8,2.2],[-4,2.7],[0,2.2],[3,2.7],[7,2],[11,2.2],[15,2.2],[-17,1],[-13,.9],[-9,.8],[-5,1],[-2,.8],[2,.8],[6,.9],[10,.8],[13,.9],[17,.9],[-13,.2],[-9,.3],[-2,.1],[3,.3],[10,.2],[14,.2]];

const BLUE="#24508a", RED="#e12a28", INK="#000000", LETTER="#231f20";
const SANS='"Liberation Sans", Arial, sans-serif';
const stageTitle="Stage";
// panel layouts (page pixels); the data comes from the arrays above
const panels=[
{rect:[0,0,645,630],plot:[78,100,569,486],zero:473,ppu:26.4,yTicks:ticksBTK,cats:catsStage,series:[aLow,aHigh],boxes:boxA,xRange:[.4,2.6],xAt:[1,2],labOff:18,labY:517.6,xFont:29.5,yFont:28,
 yTitle:["BTK expression",19.3,250,29],letter:["A",54,43.5],p:["0.00053",307,127.5,37],br:[102.5,113],
 leg:{title:[stageTitle,125,57],y:33.5,font:32,items:[[207,237,18,46,9.6,54,"Stage I−II",254,90],[361,390.5,18,46,9.6,54,"Stage III−IV",407,111]]},lw:[2,3.5]},
{rect:[645,0,617,630],plot:[767,110,1239,494.5],zero:484.5,ppu:.3092,yTicks:ticksLDHA,cats:catsStage,series:[bLow,bHigh],boxes:boxB,xRange:[.4,2.6],xAt:[1,2],labOff:-2,labY:519.4,xFont:30,yFont:29,
 yTitle:["LDHA expression",671.5,250,29.4],letter:["B",688,40],p:["7.8e−05",998.6,149,34],br:[126.4,136.7],
 leg:{title:[stageTitle,797,58],y:29.5,font:32,items:[[879.6,909.7,14.3,42,5.4,50.7,"Stage I−II",926,90],[1033,1063,14.3,42,5.4,50.7,"Stage III−IV",1080,110]]},lw:[2,3.5]},
{rect:[1262,0,688,630],plot:[1378,118,1919.5,544],zero:529.4,ppu:29.04,yTicks:ticksBTK,cats:catsT,series:[cLow,cHigh],boxes:boxC,xRange:[.4,2.6],xAt:[1,2],labOff:4,labY:579,xFont:32.5,yFont:30,
 yTitle:["BTK expression",1317,279,32.7],letter:["C",1276,42],p:["0.0051",1642.8,113.7,43],br:[87.4,98.8],
 leg:{title:["T",1465.5,21],y:24,font:37,items:[[1508.6,1548.6,13,39.5,4.7,47.4,"T1−2",1571.5,85],[1662.6,1702,13,39.5,4.7,47.4,"T3−4",1725.5,85]]},lw:[2,3.5]},
{rect:[0,630,625,610],plot:[72.7,739.6,552,1116],zero:1099,ppu:6.574,yTicks:ticksSDK1,cats:catsT,series:[dLow,dHigh],boxes:boxD,xRange:[.4,2.6],xAt:[1,2],labOff:0,labY:1135.7,xFont:29,yFont:30,
 yTitle:["SDK1 expression",10,878,28.9],letter:["D",58,700],p:["0.00086",313.4,779,30],br:[756.8,766.6],
 leg:{title:["T",150,20],y:689,font:33,items:[[188.7,225,679.7,703.4,672.6,710,"T1−2",245,75],[324.5,360.5,679.7,703.4,672.6,710,"T3−4",380.8,75]]},lw:[2,3.5]},
{rect:[625,630,645,610],plot:[727.8,753.5,1245.8,1161],zero:1146.6,ppu:27.78,yTicks:ticksBTK,cats:catsN,series:[eLow,eHigh],boxes:boxE,xRange:[.402,2.493],xAt:[.97,1.925],labOff:6.5,labY:1186.6,xFont:29,yFont:28,
 yTitle:["BTK expression",666.5,916,28.7],letter:["E",685.7,700],p:["0.013",988,772,40],br:[749.6,760.7],
 leg:{title:["N",826.5,20],y:691.5,font:33,items:[[872,902.5,682,702.5,675,708,"N0",910.6,40],[966,996,682,702.5,675,708,"N1−3",1004,78]]},lw:[2,3.5]},
{rect:[1270,630,680,610],plot:[1444.3,777.5,1945,1163.7],zero:1146,ppu:69.4,yTicks:ticksZIC5,cats:catsN,series:[fLow,fHigh],boxes:boxF,xRange:[.4,2.6],xAt:[1,2],labOff:8,labY:1188,xFont:29.5,yFont:30,
 yTitle:["ZIC5 expression",1396,926,28.9],letter:["F",1277,693],p:["0.024",1689.8,816.8,41],br:[794.6,805],
 leg:{title:["N",1534.6,21],y:705,font:33,items:[[1576.6,1613.5,694.3,718.5,686.8,726,"N0",1635,41],[1688.5,1725.4,694.3,718.5,686.8,726,"N1−3",1747,77]]},lw:[2,3]},
{rect:[0,1240,640,540],plot:[125.7,1349,586,1724.6],zero:1714.4,ppu:.302,yTicks:ticksLDHA,cats:catsN,series:[gLow,gHigh],boxes:boxG,xRange:[.4,2.6],xAt:[1,2],labOff:1,labY:1752,xFont:30,yFont:30,
 yTitle:["LDHA expression",32,1486.5,28.9],letter:["G",50,1300],p:["6.8e−07",332,1390,32.3],br:[1365,1375],
 leg:{title:["N",224,20],y:1298,font:33,items:[[265,294,1285.5,1304.8,1279.4,1311,"N0",304.5,40],[354,383.5,1285.5,1304.8,1279.4,1311,"N1−3",394,77]]},lw:[2,3]},
{rect:[640,1240,628,540],plot:[747.4,1355.5,1228.6,1741.8],zero:1723.9,ppu:.596,yTicks:ticksCCL20,cats:catsN,series:[hLow,hHigh],boxes:boxH,xRange:[.4,2.6],xAt:[1,2],labOff:0,labY:1769,xFont:29.5,yFont:30,
 yTitle:["CCL20 expression",665,1504,28.9],letter:["H",675.5,1295],p:["0.023",979.6,1394.3,39],br:[1372.4,1382.5],
 leg:{title:["N",814.7,20],y:1287,font:33,items:[[855,884,1275.7,1295,1269,1301.4,"N0",894,41],[945,973.5,1275.7,1295,1269,1301.4,"N1−3",985,77]]},lw:[2,3]},
{rect:[1268,1240,682,540],plot:[1447.4,1336.9,1925.8,1713.4],zero:1696.5,ppu:6.584,yTicks:ticksSDK1,cats:catsN,series:[iLow,iHigh],boxes:boxI,xRange:[.4,2.6],xAt:[1,2],labOff:12,labY:1737.4,xFont:29.5,yFont:30,
 yTitle:["SDK1 expression",1387,1475.5,28.9],letter:["I",1291.7,1303],p:["0.0033",1697.2,1374.7,37],br:[1354,1364],
 leg:{title:["N",1565.8,20],y:1293.5,font:33,items:[[1606.5,1635,1281.8,1301,1275.4,1306.8,"N0",1646,40],[1696,1725,1281.8,1301,1275.4,1306.8,"N1−3",1735.8,77]]},lw:[2,3]}
];
const TICK=6, XH=70;
function panelPlugin(p){
  const [rx,ry]=p.rect;
  return {id:"panelExtras",
    beforeDatasetsDraw(chart){
      const {x,y}=chart.scales, c=chart.ctx;
      p.boxes.forEach((b,i)=>{
        const col=i?RED:BLUE, xc=x.getPixelForValue(i+1), l=x.getPixelForValue(i+1-.35), r=x.getPixelForValue(i+1+.35);
        const py=v=>y.getPixelForValue(v);
        c.save();c.strokeStyle=col;c.lineWidth=p.lw[0];
        c.beginPath();c.moveTo(xc,py(b[0]));c.lineTo(xc,py(b[1]));c.moveTo(xc,py(b[3]));c.lineTo(xc,py(b[4]));c.stroke();
        c.strokeRect(l,py(b[3]),r-l,py(b[1])-py(b[3]));
        c.lineWidth=p.lw[1];c.beginPath();c.moveTo(l,py(b[2]));c.lineTo(r,py(b[2]));c.stroke();
        c.restore();
      });
    },
    afterDraw(chart){
      const c=chart.ctx,{x}=chart.scales;
      // significance bracket between the two groups
      const bx1=x.getPixelForValue(1), bx2=x.getPixelForValue(2), by=p.br[0]-ry, by2=p.br[1]-ry;
      c.save();c.strokeStyle="#333";c.lineWidth=1.6;c.beginPath();c.moveTo(bx1,by2);c.lineTo(bx1,by);c.lineTo(bx2,by);c.lineTo(bx2,by2);c.stroke();c.restore();
      c.save();c.translate(-rx,-ry);c.fillStyle=INK;c.textBaseline="alphabetic";
      // p value
      c.font=p.p[3]+"px "+SANS;c.textAlign="center";c.fillText(p.p[0],p.p[1],p.p[2]+.358*p.p[3]);
      // panel letter
      c.fillStyle=LETTER;c.font="44px "+SANS;c.textAlign="left";c.fillText(p.letter[0],p.letter[1]-2,p.letter[2]-1);
      c.fillStyle=INK;
      // y axis title
      const t=p.yTitle;c.save();c.translate(t[1],t[2]);c.rotate(-Math.PI/2);c.font=t[3]+"px "+SANS;c.textAlign="center";c.textBaseline="middle";c.fillText(t[0],0,0);c.restore();
      // legend
      const L=p.leg,base=L.y+.358*L.font;
      c.font=L.font+"px "+SANS;c.textAlign="left";
      c.fillText(L.title[0],L.title[1],base,L.title[2]);
      L.items.forEach((it,i)=>{
        const col=i?RED:BLUE,[x0,x1,y0,y1,w0,w1,txt,tx,tw]=it,xc=(x0+x1)/2,ym=(y0+y1)/2;
        c.strokeStyle=col;c.lineWidth=2.4;c.strokeRect(x0,y0,x1-x0,y1-y0);
        c.beginPath();c.moveTo(xc,w0);c.lineTo(xc,y0);c.moveTo(xc,y1);c.lineTo(xc,w1);c.moveTo(x0,ym);c.lineTo(x1,ym);c.stroke();
        c.fillStyle=col;c.beginPath();c.arc(xc,ym,5.5,0,Math.PI*2);c.fill();
        c.fillStyle=INK;c.fillText(txt,tx,base,tw);
      });
      c.restore();
    }};
}
panels.forEach(p=>{
  const [rx,ry,rw,rh]=p.rect,[l,t,r,b]=p.plot;
  const cv=document.createElement("canvas");cv.width=rw;cv.height=rh;cv.style.left=rx+"px";cv.style.top=ry+"px";cv.style.width=rw+"px";cv.style.height=rh+"px";
  document.getElementById("page").appendChild(cv);
  const ds=p.series.map((s,i)=>({label:p.cats[i],data:s.map(q=>({x:i+1+q[0]/100,y:q[1]})),backgroundColor:i?RED:BLUE,borderWidth:0,pointRadius:3.9,showLine:false,clip:false}));
  const axisStyle={border:{display:true,color:"#1a1a1a",width:2},grid:{drawOnChartArea:false,drawTicks:true,tickLength:TICK,color:"#1a1a1a",lineWidth:1.5}};
  new Chart(cv.getContext("2d"),{type:"scatter",data:{datasets:ds},plugins:[panelPlugin(p)],options:{
    responsive:false,animation:false,devicePixelRatio:1,events:[],
    layout:{padding:{left:0,top:t-ry,right:rx+rw-r,bottom:ry+rh-b-XH}},
    plugins:{legend:{display:false},tooltip:{enabled:false}},
    scales:{
      x:{type:"linear",min:p.xRange[0],max:p.xRange[1],...axisStyle,
        afterBuildTicks(s){s.ticks=p.xAt.map(v=>({value:v}));},
        afterFit(s){s.height=XH;},
        ticks:{color:INK,font:{family:SANS,size:p.xFont},autoSkip:false,maxRotation:0,labelOffset:p.labOff,
          padding:Math.max(0,p.labY-b-TICK-.5*p.xFont-2),callback:(v,i)=>p.cats[i]}},
      y:{type:"linear",min:(p.zero-b)/p.ppu,max:(p.zero-t)/p.ppu,...axisStyle,
        afterBuildTicks(s){s.ticks=p.yTicks.map(v=>({value:v}));},
        afterFit(s){s.width=l-rx;},
        ticks:{color:INK,font:{family:SANS,size:p.yFont},autoSkip:false,padding:5,labelOffset:-2,callback:v=>String(v)}}
    }}});
});
</script></body></html>
